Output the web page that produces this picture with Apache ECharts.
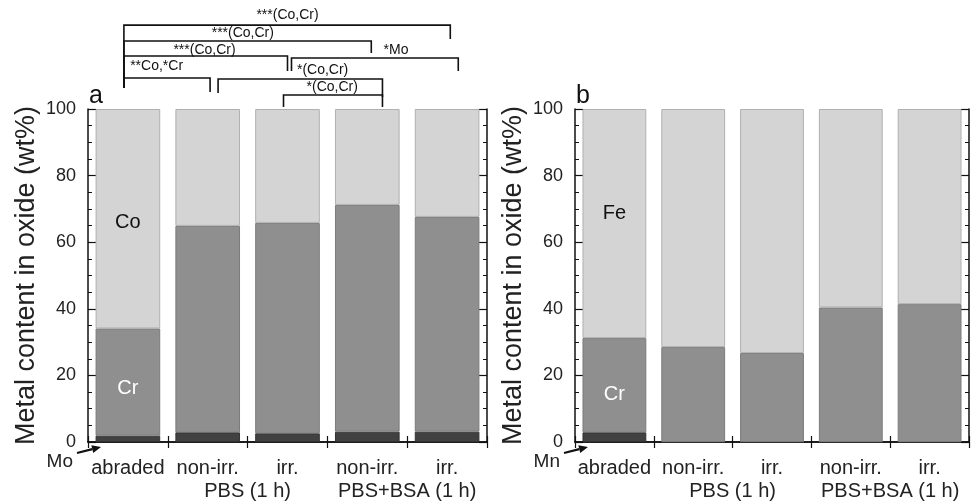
<!DOCTYPE html>
<html><head><meta charset="utf-8">
<script src="https://cdn.jsdelivr.net/npm/echarts@6/dist/echarts.min.js"></script>
<style>html,body{margin:0;background:#fff}#c{width:973px;height:501px}</style>
</head><body><div id="c"></div>
<script>
// ---------- data ----------
const categories = ['abraded', 'non-irr.', 'irr.', 'non-irr.', 'irr.'];
const groupLabels = ['PBS (1 h)', 'PBS+BSA (1 h)'];
const groupSpans = [[1, 2], [3, 4]];
const yTicks = [0, 20, 40, 60, 80, 100];
// panel a : CoCrMo oxide
const aMo = [1.9, 2.9, 2.6, 3.1, 3.1];
const aCr = [32.2, 62.0, 63.2, 68.1, 64.5];
const aCo = [65.9, 35.1, 34.2, 28.8, 32.4];
// panel b : stainless steel oxide
const bMn = [2.9, 0, 0, 0, 0];
const bCr = [28.3, 28.5, 26.7, 40.4, 41.4];
const bFe = [68.8, 71.5, 73.3, 59.6, 58.6];
// significance brackets for panel a: [fromCat, toCat, level, leftLegEnd, rightLegEnd]
const brackets = [
  [-0.05, 4.04, 125.2, 106.3, 121.0],
  [-0.05, 3.05, 120.4, 106.3, 116.8],
  [-0.05, 2.00, 115.9, 106.3, 111.4],
  [-0.05, 1.03, 109.3, 106.3, 105.1],
  [2.05, 4.14, 115.3, 111.4, 111.4],
  [1.13, 3.19, 109.0, 104.8, 103.6],
  [1.95, 3.19, 104.2, 100.6, 100.6]
];
const bracketLabels = ['***(Co,Cr)', '***(Co,Cr)', '***(Co,Cr)', '**Co,*Cr', '*Mo', '*(Co,Cr)', '*(Co,Cr)'];
const bracketLabelPos = [[2.0, 128.2], [1.44, 122.8], [0.96, 117.7], [0.36, 112.9], [3.36, 117.6], [2.44, 111.7], [2.56, 106.6]];

// ---------- chart ----------
const FONT = 'Liberation Sans, Arial, sans-serif';
const chart = echarts.init(document.getElementById('c'), null, {renderer: 'canvas'});
const LIGHT = '#d4d4d4', MID = '#8f8f8f', DARK = '#414141';

function yAx(grid, pos, withLabel) {
  return {
    type: 'value', gridIndex: grid, position: pos, min: 0, max: 100, interval: 20,
    name: withLabel ? 'Metal content in oxide (wt%)' : '',
    nameLocation: 'middle', nameGap: 48,
    nameTextStyle: {fontFamily: FONT, fontSize: 27, color: '#222'},
    axisLine: {show: true, lineStyle: {color: '#111', width: 1.5}},
    axisTick: {show: true, inside: true, length: 8, lineStyle: {color: '#111', width: 1.2}},
    minorTick: {show: true, splitNumber: 4, length: 4, lineStyle: {color: '#111', width: 1}},
    axisLabel: {show: withLabel, margin: 12, fontFamily: FONT, fontSize: 18, color: '#222'},
    splitLine: {show: false}
  };
}
function xAx(grid, pos, withLabel) {
  return {
    type: 'category', gridIndex: grid, position: pos, data: categories, boundaryGap: true,
    axisLine: {show: true, lineStyle: {color: '#111', width: 1.5}},
    axisTick: {show: true, inside: true, length: 6, lineStyle: {color: '#111', width: 1.2}},
    axisLabel: {show: withLabel, margin: 16, fontFamily: FONT, fontSize: 20, color: '#222', interval: 0},
    splitLine: {show: false}
  };
}
function barSeries(name, data, xi, yi, color, border, labels) {
  return {
    type: 'bar', name, stack: 'g' + xi, xAxisIndex: xi, yAxisIndex: yi,
    barWidth: '81%',
    itemStyle: {color, borderColor: border, borderWidth: 1},
    data: data.map((v, i) => {
      const l = labels && labels[i];
      if (!l) return v;
      return {value: v, label: {show: true, position: 'inside', formatter: l.text, offset: [0, l.dy],
        fontFamily: FONT, fontSize: 20, color: l.color}};
    }),
    emphasis: {disabled: true}
  };
}

chart.setOption({
  animation: false,
  backgroundColor: '#fff',
  grid: [
    {left: 88, right: 486, top: 109, bottom: 59},
    {left: 575, right: 4, top: 109, bottom: 59}
  ],
  xAxis: [xAx(0, 'bottom', true), xAx(0, 'top', false), xAx(1, 'bottom', true), xAx(1, 'top', false)],
  yAxis: [yAx(0, 'left', true), yAx(0, 'right', false), yAx(1, 'left', true), yAx(1, 'right', false)],
  series: [
    barSeries('Mo', aMo, 0, 0, DARK, '#333'),
    barSeries('Cr', aCr, 0, 0, MID, '#7b7b7b', [{text: 'Cr', dy: 6, color: '#fff'}]),
    barSeries('Co', aCo, 0, 0, LIGHT, '#b0b0b0', [{text: 'Co', dy: 4, color: '#111'}]),
    barSeries('Mn', bMn, 2, 2, DARK, '#333'),
    barSeries('Cr', bCr, 2, 2, MID, '#7b7b7b', [{text: 'Cr', dy: 9, color: '#fff'}]),
    barSeries('Fe', bFe, 2, 2, LIGHT, '#b0b0b0', [{text: 'Fe', dy: -10, color: '#111'}])
  ]
});

// ---------- annotations positioned through the axes ----------
function xPix(xi, idx) {
  const p0 = chart.convertToPixel({xAxisIndex: xi}, 0);
  const p1 = chart.convertToPixel({xAxisIndex: xi}, 1);
  return p0 + (p1 - p0) * idx;
}
function yPix(yi, v) { return chart.convertToPixel({yAxisIndex: yi}, v); }

const g = [];
const lineStyle = {stroke: '#111', lineWidth: 1.6, fill: null};
brackets.forEach((b, i) => {
  const x1 = xPix(0, b[0]), x2 = xPix(0, b[1]);
  g.push({type: 'polyline', silent: true, shape: {points: [[x1, yPix(0, b[3])], [x1, yPix(0, b[2])], [x2, yPix(0, b[2])], [x2, yPix(0, b[4])]]}, style: lineStyle});
  const lp = bracketLabelPos[i];
  g.push({type: 'text', silent: true, style: {text: bracketLabels[i], x: xPix(0, lp[0]), y: yPix(0, lp[1]),
    align: 'center', verticalAlign: 'middle', font: '14px ' + FONT, fill: '#111'}});
});
// group labels
[[0, 0], [2, 2]].forEach(([xi, yi]) => {
  groupSpans.forEach((s, k) => {
    g.push({type: 'text', silent: true, style: {text: groupLabels[k], x: (xPix(xi, s[0]) + xPix(xi, s[1])) / 2,
      y: yPix(yi, 0) + 49, align: 'center', verticalAlign: 'middle', font: '20px ' + FONT, fill: '#222'}});
  });
});
// panel letters & arrows
[[0, 0, 'a', 'Mo'], [2, 2, 'b', 'Mn']].forEach(([xi, yi, letter, el]) => {
  const ox = xPix(xi, -0.5), oy = yPix(yi, 0), top = yPix(yi, 100);
  g.push({type: 'text', silent: true, style: {text: letter, x: ox + 1, y: top - 13, align: 'left', verticalAlign: 'middle', font: '25px ' + FONT, fill: '#111'}});
  g.push({type: 'text', silent: true, style: {text: el, x: ox - 15, y: oy + 20, align: 'right', verticalAlign: 'middle', font: '19px ' + FONT, fill: '#222'}});
  const tip = [ox + 13, oy + 5], tail = [ox - 11, oy + 11];
  const dx = tip[0] - tail[0], dy = tip[1] - tail[1], L = Math.hypot(dx, dy);
  const ux = dx / L, uy = dy / L, px = -uy, py = ux;
  const bx = tip[0] - ux * 9, by = tip[1] - uy * 9;
  g.push({type: 'line', silent: true, shape: {x1: tail[0], y1: tail[1], x2: bx, y2: by}, style: {stroke: '#111', lineWidth: 2.2}});
  g.push({type: 'polygon', silent: true, shape: {points: [tip, [bx + px * 4, by + py * 4], [bx - px * 4, by - py * 4]]}, style: {fill: '#111'}});
});
chart.setOption({graphic: g});
</script>
</body></html>
